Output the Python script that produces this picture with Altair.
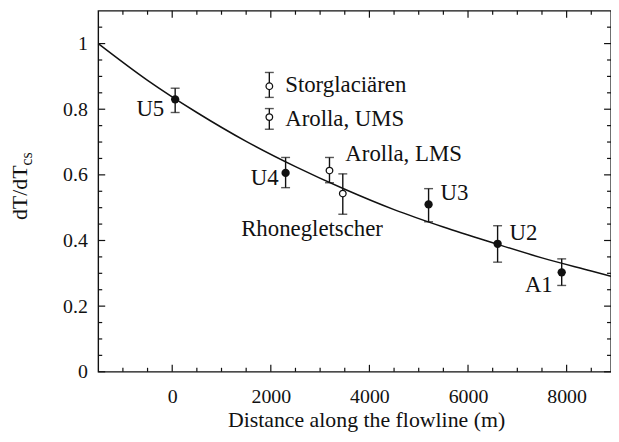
import altair as alt
import pandas as pd

# ---------------- data ----------------
# fitted curve
curve_x = [-1500, -500, 500, 1500, 2500, 3500, 4500, 5500, 6500, 7500, 8500, 8900]
curve_y = [1.000, 0.888, 0.790, 0.702, 0.625, 0.556, 0.494, 0.441, 0.393, 0.347, 0.307, 0.291]

# this study (filled symbols)
fill_names = ["U5", "U4", "U3", "U2", "A1"]
fill_x = [60, 2300, 5200, 6600, 7900]
fill_y = [0.830, 0.606, 0.510, 0.390, 0.303]
fill_lo = [0.790, 0.561, 0.457, 0.334, 0.263]
fill_hi = [0.864, 0.653, 0.558, 0.445, 0.344]

# other glaciers (open symbols)
open_names = ["Storglaciären", "Arolla, UMS", "Arolla, LMS", "Rhonegletscher"]
open_x = [1970, 1970, 3190, 3460]
open_y = [0.870, 0.776, 0.613, 0.543]
open_lo = [0.836, 0.739, 0.576, 0.480]
open_hi = [0.912, 0.802, 0.653, 0.603]

x_major = [0, 2000, 4000, 6000, 8000]
x_minor = [-1000, -500, 500, 1000, 1500, 2500, 3000, 3500, 4500, 5000, 5500,
           6500, 7000, 7500, 8500]
y_major = [0, 0.2, 0.4, 0.6, 0.8, 1]
y_minor = [0.05, 0.1, 0.15, 0.25, 0.3, 0.35, 0.45, 0.5, 0.55, 0.65, 0.7, 0.75,
           0.85, 0.9, 0.95, 1.05]

x_title = "Distance along the flowline (m)"
y_title_main = ["dT/dT"]
y_title_sub = ["cs"]

# ---------------- styling ----------------
W, H = 517, 364
INK = "#111111"
SERIF = "Liberation Serif, Times New Roman, Times, serif"
XDOM = [-1500, 8900]
YDOM = [0, 1.1]

# label placement (pixel offsets from each point), kept apart from data
label_style = {
    "U5": ("right", -11, 17),
    "U4": ("right", -7, 12),
    "U3": ("left", 12, -4),
    "U2": ("left", 12, -4),
    "A1": ("right", -9, 20),
    "Storglaciären": ("left", 16, 6),
    "Arolla, UMS": ("left", 16, 9),
    "Arolla, LMS": ("left", 16, -10),
    "Rhonegletscher": ("center", -31, 43),
}

curve_df = pd.DataFrame({"x": curve_x, "y": curve_y})
fill_df = pd.DataFrame({"name": fill_names, "x": fill_x, "y": fill_y,
                        "lo": fill_lo, "hi": fill_hi})
open_df = pd.DataFrame({"name": open_names, "x": open_x, "y": open_y,
                        "lo": open_lo, "hi": open_hi})
all_df = pd.concat([fill_df, open_df], ignore_index=True)

xs = alt.Scale(domain=XDOM, nice=False, zero=False)
ys = alt.Scale(domain=YDOM, nice=False, zero=False)

XA = alt.Axis(
    values=x_major, labelExpr="'' + datum.value", title=x_title,
    titleFont=SERIF, titleFontSize=22, titleFontWeight="normal", titleColor=INK,
    titleBaseline="alphabetic", titleY=55, titleX=270, titleAlign="center",
    labelFont=SERIF, labelFontSize=20, labelColor=INK, labelPadding=15,
    ticks=False, tickSize=0, domain=False, grid=False,
)
YA = alt.Axis(
    values=y_major, labelExpr="'' + datum.value", title="",
    labelFont=SERIF, labelFontSize=20, labelColor=INK, labelPadding=11,
    ticks=False, tickSize=0, domain=False, grid=False,
)


def X(field):
    return alt.X(field, scale=xs, axis=XA, title=x_title)


def Y(field):
    return alt.Y(field, scale=ys, axis=YA, title="")


curve = alt.Chart(curve_df).mark_line(
    color=INK, strokeWidth=1.5, interpolate="monotone"
).encode(x=X("x:Q"), y=Y("y:Q"))

bars = alt.Chart(all_df).mark_rule(color=INK, strokeWidth=1.4).encode(
    x=X("x:Q"), y=Y("lo:Q"), y2="hi:Q"
)
cap_lo = alt.Chart(all_df).mark_tick(
    color=INK, orient="horizontal", size=9, thickness=1.4
).encode(x=X("x:Q"), y=Y("lo:Q"))
cap_hi = alt.Chart(all_df).mark_tick(
    color=INK, orient="horizontal", size=9, thickness=1.4
).encode(x=X("x:Q"), y=Y("hi:Q"))

pts_fill = alt.Chart(fill_df).mark_point(
    shape="circle", filled=True, fill=INK, color=INK, size=70, opacity=1
).encode(x=X("x:Q"), y=Y("y:Q"))
pts_open = alt.Chart(open_df).mark_point(
    shape="circle", filled=False, color=INK, fill="white", size=44,
    strokeWidth=1.3, opacity=1
).encode(x=X("x:Q"), y=Y("y:Q"))

labels = []
for nm, (al, ddx, ddy) in label_style.items():
    labels.append(
        alt.Chart(all_df).transform_filter(alt.datum.name == nm).mark_text(
            font=SERIF, fontSize=23, color=INK, align=al, baseline="alphabetic",
            dx=ddx, dy=ddy
        ).encode(x=X("x:Q"), y=Y("y:Q"), text="name:N")
    )


# frame ticks (inward), drawn on the data scales
def xticks(vals, length):
    d = pd.DataFrame({"x": vals})
    bot = alt.Chart(d).mark_rule(color=INK, strokeWidth=1.2).encode(
        x=X("x:Q"), y=alt.value(H), y2=alt.value(H - length))
    top = alt.Chart(d).mark_rule(color=INK, strokeWidth=1.2).encode(
        x=X("x:Q"), y=alt.value(0), y2=alt.value(length))
    return [bot, top]


def yticks(vals, length):
    d = pd.DataFrame({"y": vals})
    left = alt.Chart(d).mark_rule(color=INK, strokeWidth=1.2).encode(
        y=Y("y:Q"), x=alt.value(0), x2=alt.value(length))
    right = alt.Chart(d).mark_rule(color=INK, strokeWidth=1.2).encode(
        y=Y("y:Q"), x=alt.value(W), x2=alt.value(W - length))
    return [left, right]


tick_layers = xticks(x_major, 7) + xticks(x_minor, 4) + yticks(y_major, 7) + yticks(y_minor, 4)

ytitle_main = alt.Chart(pd.DataFrame({"t": y_title_main})).mark_text(
    font=SERIF, fontSize=22, color=INK, angle=270, align="left",
    baseline="alphabetic"
).encode(x=alt.value(-72), y=alt.value(211), text="t:N")
ytitle_sub = alt.Chart(pd.DataFrame({"t": y_title_sub})).mark_text(
    font=SERIF, fontSize=16, color=INK, angle=270, align="left",
    baseline="alphabetic"
).encode(x=alt.value(-67), y=alt.value(156), text="t:N")

chart = alt.layer(
    curve, *tick_layers, bars, cap_lo, cap_hi, pts_open, pts_fill, *labels,
    ytitle_main, ytitle_sub
).properties(
    width=W, height=H,
    autosize=alt.AutoSizeParams(type="none"),
    padding={"left": 91, "top": 1, "right": 0, "bottom": 66},
    background="white",
).configure_view(
    stroke=INK, strokeWidth=1.4
).configure_text(font=SERIF)

chart.save("out.html", embed_options={"renderer": "svg", "actions": False})
